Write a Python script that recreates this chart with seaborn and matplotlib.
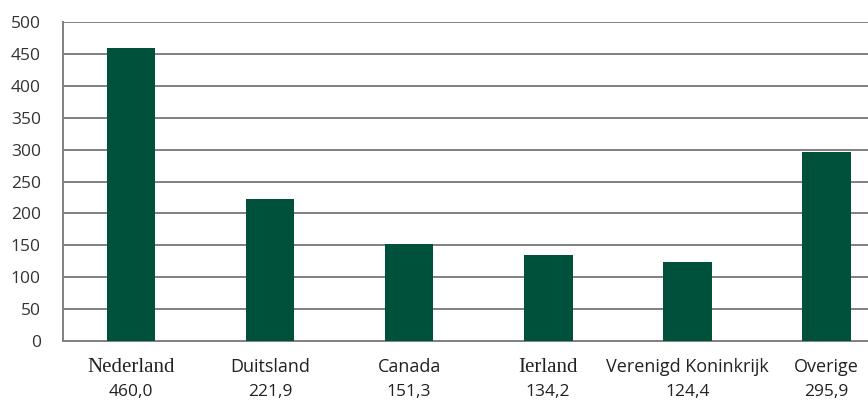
import matplotlib
matplotlib.use("Agg")
import matplotlib.pyplot as plt
import seaborn as sns
import pandas as pd
import matplotlib.transforms as mtransforms

categories = ["Nederland", "Duitsland", "Canada", "Ierland", "Verenigd Koninkrijk", "Overige"]
values = [460.0, 221.9, 151.3, 134.2, 124.4, 295.9]
value_labels = ["460,0", "221,9", "151,3", "134,2", "124,4", "295,9"]
label_serif = [True, False, False, True, False, False]
yticks = [0, 50, 100, 150, 200, 250, 300, 350, 400, 450, 500]

sns.set_style("white")
plt.rcParams["font.family"] = ["Open Sans", "DejaVu Sans"]

df = pd.DataFrame({"land": categories, "waarde": values})

fig = plt.figure(figsize=(8.68, 4.12), dpi=100)
ax = fig.add_axes([63 / 868, 1 - 341 / 412, 805 / 868, 319 / 412])

sns.barplot(data=df, x="land", y="waarde", color="#00513b", saturation=1,
            width=0.35, linewidth=0, ax=ax, zorder=3)

ax.set_ylim(0, 500)
ax.set_xlim(-0.489, 5.30)
ax.set_yticks(yticks)
ax.set_yticklabels([str(t) for t in yticks], fontsize=12.5, color="#333333")
ax.set_xticks(range(len(categories)))
ax.set_xticklabels([])
ax.tick_params(axis="both", length=0)
ax.tick_params(axis="y", pad=16)
ax.set_xlabel("")
ax.set_ylabel("")

for t in yticks[1:]:
    ax.axhline(t, color="#808080", lw=1.4, zorder=1)

for s in ["top", "right"]:
    ax.spines[s].set_visible(False)
ax.spines["left"].set_color("#808080")
ax.spines["left"].set_linewidth(1.4)
ax.spines["bottom"].set_color("#808080")
ax.spines["bottom"].set_linewidth(1.4)

trans = mtransforms.blended_transform_factory(ax.transData, fig.transFigure)
for i, (c, v, serif) in enumerate(zip(categories, value_labels, label_serif)):
    fam = ["Liberation Serif"] if serif else ["Open Sans", "DejaVu Sans"]
    ax.text(i, 1 - 367 / 412, c, transform=trans, ha="center", va="center",
            fontsize=15 if serif else 13, family=fam, color="#222222")
    ax.text(i, 1 - 392 / 412, v, transform=trans, ha="center", va="center",
            fontsize=12.5, color="#222222")

fig.savefig("out.png", dpi=100)
